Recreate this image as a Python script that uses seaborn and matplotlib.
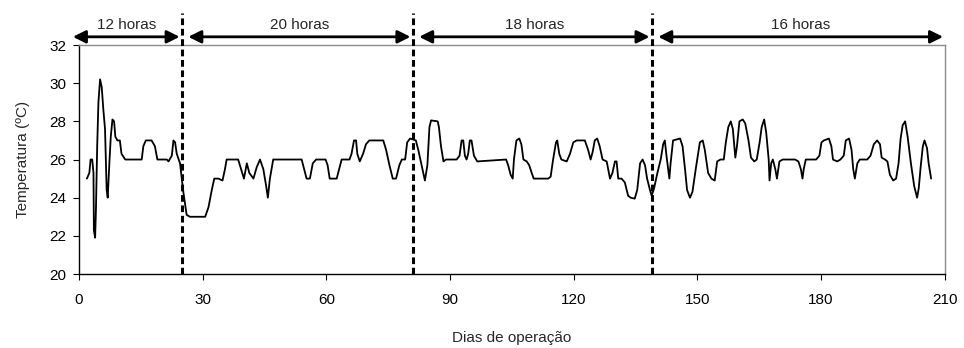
import pandas as pd
import matplotlib.pyplot as plt
import seaborn as sns

# -----------------------------
# Data
# -----------------------------
dias = [1.9, 2.5, 2.8, 3.2, 3.5, 3.6, 3.9, 4.1, 4.4, 4.7, 5.1, 5.5, 5.9, 6.3, 6.7, 6.95,
        7.4, 7.7, 8.1, 8.5, 8.8, 9.3, 9.9, 10.3, 11.2, 15.2, 15.6, 16.2, 17.6, 18.4, 19.0,
        21.3, 21.7, 22.5, 22.9, 23.3, 23.7, 24.5, 25.3, 26.1, 26.9, 30.6, 31.4, 32.2, 32.8,
        33.8, 34.8, 35.4, 35.8, 36.6, 38.6, 40.0, 40.7, 41.3, 42.3, 43.1, 43.9, 44.7, 45.4,
        45.8, 46.3, 47.1, 54.0, 54.6, 55.2, 56.0, 56.7, 57.5, 59.8, 60.3, 60.8, 62.5, 63.1,
        63.7, 65.6, 66.1, 66.7, 67.2, 67.5, 68.1, 68.9, 69.6, 70.4, 73.8, 74.5, 75.3, 76.1,
        76.9, 77.7, 78.3, 79.1, 79.6, 80.3, 81.7, 82.3, 83.1, 83.9, 84.5, 85.0, 85.4, 87.0,
        87.3, 87.8, 88.4, 89.0, 91.6, 92.3, 92.8, 93.2, 93.6, 94.0, 94.4, 94.8, 95.2, 95.8,
        96.6, 103.6, 104.1, 104.7, 105.2, 105.5, 106.1, 106.8, 107.3, 107.8, 108.6, 109.2,
        109.8, 110.3, 113.8, 114.4, 115.0, 115.7, 116.0, 116.5, 117.0, 118.3, 119.1, 119.9,
        120.7, 122.7, 123.5, 124.1, 124.6, 125.1, 125.7, 126.3, 127.0, 128.0, 128.8, 129.4,
        130.0, 130.4, 130.8, 131.6, 132.4, 133.2, 133.8, 134.8, 135.4, 136.1, 136.7, 137.3,
        137.8, 138.5, 138.9, 139.5, 140.3, 141.1, 141.7, 142.1, 142.5, 143.2, 143.5, 144.1,
        145.8, 146.4, 147.0, 147.5, 148.2, 148.8, 149.6, 150.6, 151.3, 151.8, 152.6, 153.4,
        154.2, 154.8, 155.6, 156.4, 156.9, 157.5, 158.1, 158.6, 159.2, 159.6, 160.2, 161.0,
        161.6, 162.4, 163.0, 163.8, 164.4, 165.1, 165.6, 166.2, 166.7, 167.3, 167.5, 167.9,
        168.3, 168.9, 169.3, 169.9, 170.7, 173.7, 174.5, 175.1, 175.5, 175.8, 176.3, 178.8,
        179.6, 180.1, 180.7, 181.9, 182.5, 182.9, 183.9, 184.7, 185.5, 186.0, 186.8, 187.4,
        187.8, 188.2, 188.8, 189.4, 191.2, 192.0, 192.8, 193.6, 194.3, 194.7, 195.5, 196.1,
        196.7, 197.5, 198.2, 198.8, 199.3, 199.8, 200.4, 201.0, 201.8, 202.6, 203.3, 203.7,
        204.2, 204.7, 205.1, 205.7, 206.1, 206.7]

temperatura = [25.0, 25.3, 26.0, 26.0, 25.3, 22.3, 21.9, 23.4, 26.7, 29.0, 30.2, 29.8, 28.6, 27.6, 24.4, 24.0,
               26.0, 27.2, 28.1, 28.0, 27.2, 27.0, 27.0, 26.3, 26.0, 26.0, 26.7, 27.0, 27.0, 26.7, 26.0,
               26.0, 25.9, 26.2, 27.0, 26.9, 26.3, 25.8, 24.3, 23.1, 23.0, 23.0, 23.5, 24.4, 25.0,
               25.0, 24.9, 25.5, 26.0, 26.0, 26.0, 25.0, 25.8, 25.3, 25.0, 25.6, 26.0, 25.5, 24.6,
               24.0, 25.0, 26.0, 26.0, 25.5, 25.0, 25.0, 25.8, 26.0, 26.0, 25.7, 25.0, 25.0, 25.5,
               26.0, 26.0, 26.3, 27.0, 27.0, 26.3, 25.9, 26.3, 26.8, 27.0, 27.0, 26.5, 25.7, 25.0,
               25.0, 25.7, 26.0, 26.0, 26.9, 27.1, 27.0, 26.5, 25.7, 24.9, 25.7, 27.7, 28.05, 28.0,
               27.7, 26.7, 25.9, 26.0, 26.0, 26.2, 27.0, 27.0, 26.2, 26.0, 26.3, 27.0, 27.0, 26.2,
               25.9, 26.0, 25.7, 25.2, 25.0, 26.0, 27.0, 27.1, 26.8, 26.0, 25.9, 25.7,
               25.3, 25.0, 25.0, 25.1, 26.0, 26.9, 27.0, 26.3, 26.0, 25.9, 26.3, 26.9,
               27.0, 27.0, 26.5, 26.0, 26.4, 27.0, 27.1, 26.7, 26.0, 25.9, 25.0, 25.3,
               25.9, 25.9, 25.0, 25.0, 24.8, 24.1, 24.0, 23.95, 24.4, 25.8, 26.0, 25.7,
               25.0, 24.4, 24.1, 24.5, 25.3, 26.0, 26.8, 27.0, 26.2, 25.0, 25.8, 27.0,
               27.1, 26.7, 25.5, 24.4, 24.0, 24.3, 25.5, 26.9, 27.0, 26.5, 25.3, 25.0,
               24.9, 25.9, 26.0, 26.0, 26.9, 27.7, 28.0, 27.6, 26.1, 26.7, 28.0, 28.1,
               27.9, 27.0, 26.1, 25.9, 26.0, 26.9, 27.7, 28.1, 27.4, 26.0, 24.9, 25.8,
               26.0, 25.5, 25.0, 25.9, 26.0, 26.0, 25.9, 25.5, 25.0, 25.5, 26.0, 26.0,
               26.2, 26.9, 27.0, 27.1, 26.7, 26.0, 25.9, 26.0, 26.2, 27.0, 27.1, 26.5,
               25.5, 25.0, 25.8, 26.0, 26.0, 26.2, 26.8, 27.0, 26.8, 26.1, 26.0, 25.9,
               25.2, 24.9, 25.0, 25.8, 27.1, 27.8, 28.0, 27.2, 25.8, 24.6, 24.0, 24.5,
               25.7, 26.7, 27.0, 26.6, 25.8, 25.0]

# period boundaries (days) and labels
limites = [25, 81, 139]
periodos = ["12 horas", "20 horas", "18 horas", "16 horas"]

df = pd.DataFrame({"Dias": dias, "Temperatura": temperatura})

# -----------------------------
# Plot style
# -----------------------------
sns.set_style("ticks")
plt.rcParams["font.family"] = ["Liberation Sans", "DejaVu Sans"]

fig = plt.figure(figsize=(9.64, 3.48), dpi=100)
ax = fig.add_axes([0.082, 0.2126, 0.898, 0.658])

sns.lineplot(data=df, x="Dias", y="Temperatura", color="black",
             linewidth=1.3, sort=False, ax=ax)

ax.set_xlim(0, 210)
ax.set_ylim(20, 32)
ax.set_xticks(range(0, 211, 30))
ax.set_yticks(range(20, 33, 2))
ax.tick_params(labelsize=11, length=4, width=0.8, colors="black")
ax.tick_params(axis="x", pad=10)
ax.tick_params(axis="y", pad=5)
ax.set_xlabel("Dias de operação", fontsize=11, labelpad=17)
ax.set_ylabel("Temperatura (ºC)", fontsize=11, labelpad=14)

for side in ["left", "bottom"]:
    ax.spines[side].set_color("black")
    ax.spines[side].set_linewidth(1.0)
for side in ["top", "right"]:
    ax.spines[side].set_color("#8c8c8c")
    ax.spines[side].set_linewidth(1.0)

# dashed vertical lines, extending above the axes
for x in limites:
    ax.plot([x, x], [20, 33.7], color="black", lw=2.2,
            linestyle=(0, (2.2, 1.2)), clip_on=False, zorder=5)

# double arrows with period labels above the axes
inicio = [-1.5] + [x + 1.5 for x in limites]
fim = [x - 0.6 for x in limites] + [209.6]
for a, b, txt in zip(inicio, fim, periodos):
    ax.annotate("", xy=(b, 32.43), xytext=(a, 32.43), annotation_clip=False,
                arrowprops=dict(arrowstyle="<|-|>", color="black", lw=2,
                                mutation_scale=19, shrinkA=0, shrinkB=0))
    ax.text((a + b) / 2, 33.05, txt, ha="center", va="center",
            fontsize=11, clip_on=False)

plt.savefig("out.png", dpi=100)
